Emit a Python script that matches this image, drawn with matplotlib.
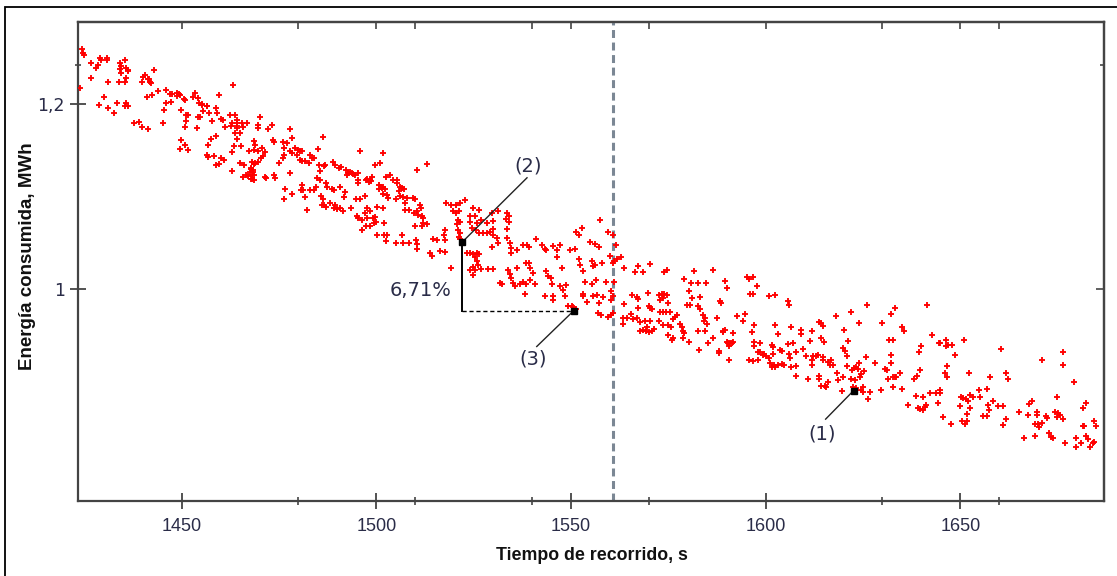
import matplotlib.pyplot as plt
from matplotlib.patches import Rectangle

# (tiempo de recorrido [s], energia [MWh]), left to right
seg_a = [
    (1424.4, 1.260), (1424.7, 1.256), (1424.9, 1.254), (1423.8, 1.218),
    (1426.8, 1.245), (1426.8, 1.229), (1428.1, 1.239), (1428.5, 1.243),
    (1429.0, 1.250), (1429.2, 1.248), (1430.7, 1.250), (1430.9, 1.248),
    (1431.1, 1.224), (1430.1, 1.208), (1428.8, 1.199), (1431.1, 1.196),
    (1432.6, 1.191), (1433.5, 1.201), (1434.1, 1.245), (1434.4, 1.242),
    (1434.1, 1.238), (1434.4, 1.234), (1435.4, 1.248), (1435.8, 1.239),
    (1436.2, 1.237), (1436.1, 1.236), (1433.8, 1.224), (1435.4, 1.224),
    (1435.8, 1.229), (1435.4, 1.198), (1435.8, 1.201), (1436.1, 1.198),
    (1437.8, 1.180), (1439.1, 1.181), (1439.8, 1.176), (1441.4, 1.173),
    (1439.7, 1.224), (1440.1, 1.230), (1440.5, 1.232), (1441.4, 1.227),
    (1441.8, 1.224), (1442.2, 1.223), (1441.6, 1.228), (1442.9, 1.237),
    (1441.0, 1.208), (1442.4, 1.210), (1443.9, 1.214), (1445.4, 1.194),
    (1445.3, 1.180), (1446.1, 1.216), (1446.1, 1.201), (1447.2, 1.203),
    (1446.9, 1.211), (1447.5, 1.211), (1448.9, 1.212), (1449.3, 1.211),
    (1449.5, 1.210), (1448.7, 1.209), (1449.9, 1.194), (1450.6, 1.206),
    (1450.8, 1.205), (1451.0, 1.188), (1451.5, 1.188), (1451.2, 1.182),
    (1450.8, 1.176), (1449.9, 1.161), (1450.8, 1.156), (1449.5, 1.152),
    (1451.5, 1.151), (1452.9, 1.208), (1453.5, 1.212), (1454.1, 1.207),
    (1454.4, 1.201), (1455.1, 1.199), (1455.5, 1.193), (1455.2, 1.200),
    (1456.4, 1.198), (1457.0, 1.191), (1454.1, 1.186), (1454.7, 1.186),
    (1454.0, 1.174), (1456.6, 1.198), (1457.8, 1.182), (1457.5, 1.163),
    (1458.9, 1.196), (1459.2, 1.191), (1459.5, 1.210), (1458.9, 1.166),
    (1456.8, 1.156), (1456.8, 1.143), (1456.6, 1.145), (1458.3, 1.144),
    (1460.2, 1.184), (1460.6, 1.183), (1461.1, 1.176), (1458.9, 1.134),
    (1459.5, 1.135), (1460.2, 1.142), (1460.9, 1.140), (1462.4, 1.188),
    (1462.8, 1.180), (1462.6, 1.177), (1463.2, 1.221), (1463.8, 1.188),
    (1464.1, 1.183), (1464.3, 1.180), (1464.1, 1.177), (1464.3, 1.174),
    (1463.8, 1.169), (1464.9, 1.169), (1465.4, 1.180), (1465.8, 1.175),
    (1466.9, 1.180), (1464.1, 1.162), (1463.5, 1.155), (1463.0, 1.148),
    (1465.2, 1.155), (1467.2, 1.150), (1464.9, 1.136), (1466.0, 1.134),
    (1463.0, 1.128), (1465.8, 1.121), (1466.6, 1.124), (1467.1, 1.122),
    (1467.5, 1.127), (1467.7, 1.119), (1467.9, 1.131),
]

seg_b = [
    (1470.0, 1.186), (1469.5, 1.178), (1469.5, 1.174), (1472.3, 1.173),
    (1473.2, 1.178), (1468.6, 1.160), (1468.9, 1.156), (1468.6, 1.151),
    (1469.5, 1.149), (1470.6, 1.153), (1471.5, 1.148), (1473.4, 1.161),
    (1473.6, 1.159), (1468.0, 1.138), (1468.5, 1.135), (1468.9, 1.137),
    (1469.5, 1.138), (1470.3, 1.142), (1470.9, 1.144), (1467.8, 1.130),
    (1468.3, 1.127), (1468.0, 1.123), (1468.6, 1.124), (1468.0, 1.119),
    (1468.5, 1.118), (1468.3, 1.129), (1471.5, 1.121), (1471.7, 1.120),
    (1473.8, 1.123), (1474.0, 1.120), (1477.9, 1.173), (1478.3, 1.164),
    (1476.0, 1.159), (1477.0, 1.158), (1476.2, 1.153), (1476.3, 1.145),
    (1476.0, 1.142), (1475.1, 1.137), (1477.9, 1.149), (1478.3, 1.147),
    (1479.2, 1.153), (1480.0, 1.151), (1480.4, 1.149), (1480.9, 1.150),
    (1479.6, 1.145), (1480.3, 1.140), (1480.9, 1.139), (1481.7, 1.139),
    (1483.0, 1.145), (1483.4, 1.142), (1482.8, 1.137), (1484.0, 1.142),
    (1477.9, 1.126), (1476.6, 1.108), (1476.2, 1.098), (1478.3, 1.103),
    (1480.9, 1.113), (1481.1, 1.107), (1480.6, 1.107), (1481.7, 1.100),
    (1483.0, 1.107), (1483.9, 1.107), (1482.2, 1.086), (1484.9, 1.152),
    (1486.4, 1.165), (1485.2, 1.134), (1485.6, 1.128), (1486.6, 1.133),
    (1486.9, 1.134), (1484.7, 1.120), (1485.6, 1.118), (1484.6, 1.111),
    (1487.1, 1.115), (1487.3, 1.110), (1488.6, 1.108), (1489.0, 1.107),
    (1490.7, 1.110), (1485.8, 1.101), (1486.3, 1.097), (1486.0, 1.091),
    (1486.6, 1.091), (1488.1, 1.093), (1487.1, 1.089), (1488.8, 1.138),
    (1489.4, 1.134), (1490.3, 1.131), (1490.9, 1.132), (1491.6, 1.100),
    (1492.0, 1.105), (1489.0, 1.088), (1490.0, 1.087), (1490.7, 1.088),
    (1491.4, 1.085), (1489.4, 1.091), (1492.3, 1.129), (1492.6, 1.126),
    (1493.3, 1.127), (1493.7, 1.126), (1494.1, 1.125), (1494.6, 1.124),
    (1495.2, 1.126), (1492.4, 1.124), (1495.2, 1.118), (1495.2, 1.115),
    (1493.5, 1.088), (1494.8, 1.097), (1495.9, 1.098), (1497.1, 1.101),
    (1495.9, 1.149), (1497.4, 1.118), (1497.7, 1.119), (1498.3, 1.118),
    (1498.6, 1.117), (1498.9, 1.121), (1498.0, 1.116), (1495.0, 1.079),
    (1495.4, 1.077), (1496.3, 1.075), (1497.6, 1.077), (1497.1, 1.082),
    (1497.7, 1.088), (1498.4, 1.084), (1499.1, 1.077), (1499.7, 1.078),
    (1500.0, 1.073), (1499.3, 1.071), (1500.1, 1.089), (1496.3, 1.064),
    (1497.4, 1.068), (1498.4, 1.068), (1499.7, 1.134), (1501.0, 1.136),
    (1501.7, 1.147), (1500.8, 1.113), (1501.2, 1.111), (1501.4, 1.109),
    (1501.8, 1.111), (1502.3, 1.108), (1500.6, 1.108), (1501.8, 1.103),
    (1502.7, 1.102), (1502.9, 1.099), (1502.5, 1.121), (1503.4, 1.124),
    (1501.8, 1.088), (1502.0, 1.071), (1500.1, 1.059), (1502.0, 1.059),
    (1502.7, 1.059), (1502.5, 1.052), (1504.4, 1.118), (1505.3, 1.118),
    (1505.4, 1.115), (1506.1, 1.111), (1506.6, 1.109), (1505.7, 1.106),
    (1507.0, 1.108), (1506.0, 1.101), (1506.8, 1.100), (1507.8, 1.099),
    (1505.1, 1.097), (1505.1, 1.050), (1506.6, 1.059), (1506.8, 1.050),
    (1508.3, 1.050), (1509.4, 1.099), (1510.0, 1.097), (1507.4, 1.093),
    (1507.4, 1.086), (1508.5, 1.086), (1509.7, 1.082), (1510.4, 1.085),
    (1511.3, 1.091), (1511.4, 1.088), (1511.7, 1.079), (1512.1, 1.077),
    (1510.8, 1.080), (1509.9, 1.068), (1510.2, 1.053), (1510.4, 1.049),
    (1510.4, 1.043), (1510.4, 1.129), (1511.7, 1.068), (1512.1, 1.071),
]

seg_c = [
    (1513.1, 1.135), (1513.1, 1.070), (1514.6, 1.054), (1514.2, 1.036),
    (1513.8, 1.039), (1516.3, 1.041), (1517.6, 1.040), (1518.0, 1.093),
    (1519.3, 1.091), (1520.4, 1.091), (1521.6, 1.093), (1522.8, 1.096),
    (1519.8, 1.084), (1520.4, 1.082), (1521.3, 1.084), (1521.0, 1.075),
    (1521.6, 1.073), (1520.6, 1.070), (1517.6, 1.064), (1517.4, 1.059),
    (1517.6, 1.053), (1515.5, 1.053), (1521.0, 1.064), (1521.5, 1.061),
    (1521.3, 1.056), (1521.6, 1.054), (1524.9, 1.088), (1526.4, 1.086),
    (1525.3, 1.079), (1524.0, 1.079), (1524.0, 1.073), (1525.8, 1.071),
    (1527.0, 1.075), (1528.3, 1.072), (1524.5, 1.066), (1525.6, 1.064),
    (1526.4, 1.061), (1527.5, 1.061), (1528.3, 1.061), (1529.2, 1.062),
    (1530.0, 1.065), (1529.9, 1.074), (1529.6, 1.082), (1531.3, 1.084),
    (1530.0, 1.058), (1529.6, 1.046), (1530.9, 1.055), (1531.3, 1.050),
    (1519.1, 1.023), (1523.4, 1.039), (1524.0, 1.039), (1524.9, 1.038),
    (1525.8, 1.039), (1526.4, 1.038), (1525.3, 1.035), (1525.8, 1.030),
    (1524.9, 1.024), (1525.3, 1.021), (1526.2, 1.026), (1524.0, 1.021),
    (1527.0, 1.022), (1528.8, 1.022), (1530.0, 1.022), (1524.9, 1.015),
    (1533.3, 1.076), (1533.6, 1.082), (1534.1, 1.073), (1534.1, 1.079),
    (1533.6, 1.065), (1533.6, 1.055), (1534.3, 1.050), (1534.7, 1.044),
    (1534.5, 1.039), (1536.2, 1.042), (1531.7, 1.006), (1532.4, 1.005),
    (1533.9, 1.021), (1534.3, 1.016), (1534.7, 1.012), (1535.2, 1.006),
    (1535.6, 1.003), (1536.0, 1.023), (1536.9, 1.005), (1537.7, 1.008),
    (1538.4, 1.005), (1538.2, 0.995), (1537.6, 1.048), (1538.8, 1.048),
    (1539.3, 1.046), (1538.4, 1.028), (1539.3, 1.028), (1539.5, 1.023),
    (1540.3, 1.017), (1539.5, 1.010), (1540.7, 1.005), (1541.0, 1.054),
    (1542.5, 1.048), (1543.3, 1.043), (1543.7, 1.042), (1543.7, 1.019),
    (1544.2, 1.014), (1544.8, 1.012), (1545.0, 1.005), (1545.4, 0.992),
    (1545.3, 0.988), (1543.3, 0.992), (1545.4, 1.047), (1546.3, 1.042),
    (1546.5, 1.035), (1547.2, 1.048), (1547.6, 1.023), (1548.0, 0.999),
    (1548.4, 0.992), (1547.2, 1.003), (1548.7, 1.004), (1549.3, 0.982),
    (1550.2, 0.982), (1550.6, 0.981), (1551.4, 0.978), (1549.7, 1.042),
    (1551.0, 1.043), (1552.1, 1.033), (1552.3, 1.026), (1551.4, 1.062),
    (1552.1, 1.059), (1552.7, 1.066), (1553.2, 1.019), (1553.6, 1.008),
    (1553.0, 0.995), (1553.2, 0.992), (1554.0, 0.986), (1555.7, 0.992),
    (1554.9, 1.051), (1555.3, 1.030), (1555.7, 1.025), (1555.5, 1.005),
]

seg_d = [
    (1557.5, 1.075), (1559.6, 1.062), (1560.9, 1.058), (1561.6, 1.048),
    (1559.9, 1.036), (1561.1, 1.030), (1561.7, 1.033), (1562.8, 1.035),
    (1560.7, 1.028), (1557.3, 1.046), (1556.2, 1.049), (1557.9, 1.028),
    (1556.2, 1.026), (1556.4, 1.010), (1559.0, 1.008), (1561.1, 1.008),
    (1560.2, 0.998), (1556.6, 0.993), (1558.2, 0.991), (1557.3, 0.985),
    (1560.2, 0.988), (1560.9, 0.992), (1557.0, 0.974), (1557.6, 0.972),
    (1559.6, 0.970), (1560.2, 0.972), (1560.7, 0.974), (1563.6, 1.023),
    (1566.5, 1.018), (1567.3, 1.025), (1568.4, 1.018), (1570.3, 1.027),
    (1563.6, 0.984), (1565.6, 0.993), (1566.9, 0.991), (1567.3, 0.989),
    (1567.3, 0.979), (1569.9, 0.996), (1563.3, 0.969), (1564.3, 0.969),
    (1563.3, 0.962), (1565.3, 0.973), (1566.0, 0.967), (1566.9, 0.969),
    (1567.7, 0.964), (1569.0, 0.965), (1570.3, 0.965), (1569.6, 0.959),
    (1568.6, 0.956), (1569.3, 0.954), (1570.1, 0.953), (1570.7, 0.955),
    (1571.2, 0.957), (1570.1, 0.982), (1570.3, 0.979), (1570.7, 0.978),
    (1567.6, 0.955), (1572.5, 0.994), (1573.3, 0.995), (1573.9, 0.995),
    (1574.6, 0.994), (1572.9, 0.988), (1573.6, 0.990), (1575.0, 0.985),
    (1572.9, 0.975), (1573.7, 0.975), (1574.4, 0.975), (1575.3, 0.975),
    (1572.5, 0.965), (1573.6, 0.961), (1575.0, 0.961), (1575.6, 0.959),
    (1574.8, 0.950), (1575.9, 0.945), (1576.3, 0.947), (1573.9, 1.018),
    (1574.6, 1.021), (1576.3, 0.967), (1576.7, 0.970), (1577.3, 0.972),
    (1578.0, 0.962), (1578.4, 0.959), (1578.7, 0.955), (1579.0, 0.952),
    (1578.7, 0.947), (1580.4, 0.943), (1578.9, 1.011), (1580.2, 0.998),
    (1579.9, 0.983), (1580.6, 0.983), (1581.0, 0.990), (1580.8, 1.007),
    (1581.6, 1.020), (1582.7, 1.007), (1583.2, 0.991), (1582.7, 0.982),
    (1583.2, 0.978), (1584.7, 1.007), (1584.0, 0.972), (1584.4, 0.969),
    (1584.9, 0.962), (1584.2, 0.965), (1582.5, 0.955), (1584.4, 0.955),
    (1583.0, 0.934), (1585.3, 0.941), (1586.4, 0.947), (1586.4, 1.021),
    (1588.3, 0.987), (1588.5, 0.985), (1587.6, 0.969), (1589.1, 0.955),
    (1589.6, 0.956), (1589.1, 0.953), (1591.7, 0.952), (1589.6, 1.009),
    (1590.0, 1.001), (1590.0, 0.943), (1590.4, 0.941), (1590.7, 0.938),
    (1591.3, 0.942), (1591.7, 0.943), (1590.9, 0.941), (1588.1, 0.931),
    (1588.1, 0.933), (1590.7, 0.923), (1592.6, 0.971), (1594.7, 0.973),
    (1595.1, 1.013), (1595.8, 1.011), (1596.7, 1.013), (1597.7, 1.003),
    (1596.0, 0.995), (1596.7, 0.995), (1594.3, 0.965), (1597.0, 0.961),
    (1596.4, 0.953), (1596.9, 0.943), (1597.0, 0.938), (1598.6, 0.941),
    (1595.6, 0.923), (1596.7, 0.922), (1598.1, 0.923), (1598.1, 0.932),
    (1598.6, 0.932), (1599.4, 0.929), (1599.6, 0.930),
]

seg_e = [
    (1600.9, 0.992), (1602.4, 0.993), (1605.8, 0.987), (1606.0, 0.983),
    (1601.5, 0.939), (1601.8, 0.937), (1602.4, 0.961), (1603.2, 0.951),
    (1600.0, 0.927), (1600.9, 0.925), (1601.9, 0.930), (1602.4, 0.916),
    (1603.2, 0.918), (1603.6, 0.934), (1604.1, 0.933), (1604.3, 0.919),
    (1604.7, 0.918), (1601.5, 0.915), (1601.1, 0.920), (1602.1, 0.918),
    (1605.8, 0.940), (1606.0, 0.930), (1606.2, 0.925), (1607.1, 0.942),
    (1607.7, 0.932), (1606.4, 0.916), (1607.7, 0.917), (1607.9, 0.906),
    (1609.5, 0.935), (1609.2, 0.956), (1609.2, 0.951), (1606.4, 0.959),
    (1610.3, 0.927), (1611.3, 0.944), (1611.8, 0.955), (1611.8, 0.923),
    (1611.8, 0.918), (1612.2, 0.927), (1612.9, 0.927), (1613.5, 0.928),
    (1613.7, 0.964), (1614.3, 0.963), (1614.6, 0.960), (1614.1, 0.947),
    (1614.9, 0.943), (1614.8, 0.926), (1614.6, 0.923), (1610.9, 0.902),
    (1613.7, 0.906), (1613.7, 0.902), (1614.3, 0.895), (1615.2, 0.895),
    (1616.1, 0.899), (1615.6, 0.894), (1616.1, 0.921), (1616.5, 0.918),
    (1616.7, 0.923), (1617.3, 0.918), (1618.0, 0.971), (1618.2, 0.909),
    (1618.6, 0.901), (1619.9, 0.905), (1620.1, 0.956), (1619.9, 0.936),
    (1620.3, 0.933), (1620.8, 0.927), (1621.2, 0.944), (1620.9, 0.917),
    (1619.7, 0.889), (1621.8, 0.903), (1622.0, 0.975), (1622.3, 0.912),
    (1622.6, 0.914), (1623.3, 0.916), (1623.8, 0.913), (1624.0, 0.963),
    (1624.2, 0.905), (1624.6, 0.908), (1625.2, 0.911), (1622.9, 0.901),
    (1622.5, 0.894), (1623.3, 0.893), (1624.0, 0.920), (1625.7, 0.926),
    (1625.9, 0.983), (1625.0, 0.894), (1624.6, 0.891), (1625.0, 0.888),
    (1626.3, 0.881), (1626.8, 0.888), (1628.0, 0.920), (1629.5, 0.891),
    (1630.0, 0.963), (1630.6, 0.913), (1631.2, 0.912), (1631.5, 0.903),
    (1632.6, 0.894), (1632.1, 0.920), (1632.3, 0.929), (1632.6, 0.945),
    (1632.7, 0.905), (1633.2, 0.905), (1634.5, 0.909), (1634.9, 0.892),
    (1633.6, 0.905), (1631.7, 0.945), (1632.1, 0.973), (1633.2, 0.979),
    (1634.9, 0.959), (1635.5, 0.954), (1636.6, 0.874), (1638.1, 0.903),
    (1638.6, 0.884), (1638.9, 0.906), (1639.4, 0.932), (1639.6, 0.912),
    (1640.0, 0.938), (1639.2, 0.871), (1639.6, 0.870), (1640.3, 0.883),
    (1640.5, 0.869), (1640.9, 0.872), (1641.3, 0.874), (1642.2, 0.887),
    (1642.8, 0.950), (1641.5, 0.983),
]

seg_f = [
    (1644.6, 0.941), (1644.9, 0.941), (1646.3, 0.945), (1646.3, 0.938),
    (1646.9, 0.939), (1647.8, 0.939), (1650.9, 0.945), (1648.6, 0.929),
    (1646.7, 0.917), (1646.1, 0.909), (1646.7, 0.905), (1652.3, 0.909),
    (1643.7, 0.887), (1644.9, 0.891), (1644.9, 0.887), (1644.3, 0.877),
    (1645.6, 0.861), (1647.5, 0.854), (1650.1, 0.883), (1650.8, 0.882),
    (1651.4, 0.881), (1652.0, 0.879), (1652.6, 0.885), (1653.2, 0.883),
    (1649.9, 0.873), (1652.6, 0.871), (1651.8, 0.865), (1650.3, 0.857),
    (1651.2, 0.854), (1651.8, 0.857), (1654.9, 0.891), (1655.0, 0.883),
    (1656.9, 0.892), (1657.6, 0.905), (1655.7, 0.862), (1656.8, 0.862),
    (1657.4, 0.869), (1657.2, 0.874), (1658.5, 0.879), (1659.8, 0.873),
    (1660.9, 0.873), (1661.7, 0.859), (1660.9, 0.853), (1660.4, 0.935),
    (1661.7, 0.909), (1662.3, 0.902), (1665.1, 0.867), (1666.3, 0.839),
    (1667.5, 0.863), (1667.7, 0.875), (1668.3, 0.879), (1669.2, 0.841),
    (1669.8, 0.867), (1669.8, 0.863), (1669.2, 0.854), (1670.0, 0.854),
    (1670.3, 0.851), (1671.1, 0.855), (1672.0, 0.862), (1672.3, 0.860),
    (1672.9, 0.844), (1673.2, 0.840), (1673.7, 0.839), (1671.1, 0.923),
    (1674.9, 0.883), (1674.3, 0.867), (1674.7, 0.861), (1675.2, 0.866),
    (1675.6, 0.863), (1676.4, 0.859), (1676.9, 0.833), (1676.4, 0.932),
    (1676.4, 0.918), (1679.2, 0.899), (1679.7, 0.839), (1679.7, 0.829),
    (1680.9, 0.833), (1681.6, 0.871), (1682.4, 0.877), (1682.4, 0.841),
    (1682.9, 0.838), (1683.3, 0.829), (1684.0, 0.833), (1684.3, 0.834),
    (1684.3, 0.857), (1684.8, 0.852), (1681.8, 0.852), (1681.4, 0.852),
]

t_limit = 1560.7          # dashed vertical reference
mark_1 = (1622.6, 0.890)
mark_2 = (1522.1, 1.051)
mark_3 = (1550.7, 0.9765)
gap_text = '6,71%'

x_major = [1450, 1500, 1550, 1600, 1650]
x_minor = [1480, 1510, 1540, 1570, 1630, 1660]
y_major = [1.0, 1.2]
y_major_lbl = ['1', '1,2']
y_minor = [1.243]

spine_c = '#444444'
lbl_c = '#2a2c48'
arial = ['Liberation Sans', 'DejaVu Sans']

W, H = 1117, 576
fig = plt.figure(figsize=(W / 100, H / 100), dpi=100)
ax = fig.add_axes([78 / W, 1 - 501 / H, 1026 / W, 479 / H])

for seg in [seg_a, seg_b, seg_c, seg_d, seg_e, seg_f]:
    t, e = zip(*seg)
    ax.plot(t, e, ls='none', marker='+', ms=3.7, mew=1.35, color='#ff0000', zorder=3)

ax.axvline(t_limit, color='#7b8794', lw=2.2, ls=(0, (2.6, 1.5)), zorder=2)

# (2)-(3) difference bracket
ax.plot([mark_2[0], mark_2[0]], [mark_3[1], mark_2[1]], color='black', lw=1.4, zorder=4)
ax.plot([mark_2[0], mark_3[0]], [mark_3[1], mark_3[1]], color='black', lw=1.0,
        ls=(0, (3, 2)), zorder=4)
ax.text(1519.2, 0.9985, gap_text, ha='right', va='center', fontsize=14, color=lbl_c)

callouts = [
    (mark_1, (1615.4, 0.859), (1614.4, 0.843), '(1)'),
    (mark_2, (1538.7, 1.1205), (1538.9, 1.1338), '(2)'),
    (mark_3, (1541.2, 0.9377), (1540.2, 0.9244), '(3)'),
]
for pt, end, txt_at, txt in callouts:
    ax.plot([pt[0], end[0]], [pt[1], end[1]], color='#222222', lw=1.0, zorder=4)
    ax.plot(pt[0], pt[1], marker='s', ms=4, color='black', zorder=5)
    ax.text(txt_at[0], txt_at[1], txt, ha='center', va='center', fontsize=14, color=lbl_c)

ax.set_xlim(1423.37, 1686.9)
ax.set_ylim(0.7703, 1.2893)

ax.set_xticks(x_major)
ax.set_xticks(x_minor, minor=True)
ax.set_yticks(y_major)
ax.set_yticklabels(y_major_lbl)
ax.set_yticks(y_minor, minor=True)

ax.tick_params(axis='x', which='major', direction='inout', length=11, width=1.3,
               color=spine_c, labelcolor=lbl_c, labelsize=13, pad=7, top=False)
ax.tick_params(axis='x', which='minor', direction='inout', length=6, width=1.2,
               color=spine_c, top=False)
ax.tick_params(axis='y', which='major', direction='inout', length=11, width=1.3,
               color=spine_c, labelcolor=lbl_c, labelsize=12.5, pad=4, right=False)
ax.tick_params(axis='y', which='minor', direction='inout', length=5, width=1.2,
               color=spine_c, right=False)
for lab in ax.get_xticklabels():
    lab.set_family(arial)

for s in ax.spines.values():
    s.set_color(spine_c)
    s.set_linewidth(1.6)

# ticks on the top and right frame point inwards only
top = ax.secondary_xaxis('top')
top.set_xticks(x_major)
top.set_xticks(x_minor, minor=True)
top.tick_params(which='both', direction='in', length=5, width=1.2, color=spine_c,
                labeltop=False)
top.spines['top'].set_color(spine_c)
top.spines['top'].set_linewidth(1.6)

right = ax.secondary_yaxis('right')
right.set_yticks([1.0])
right.set_yticks(y_minor, minor=True)
right.tick_params(which='major', direction='in', length=6, width=1.2, color=spine_c,
                  labelright=False)
right.tick_params(which='minor', direction='in', length=3, width=1.2, color=spine_c)
right.spines['right'].set_color(spine_c)
right.spines['right'].set_linewidth(1.6)

ax.text(-0.049, 0.512, 'Energía consumida, MWh', transform=ax.transAxes, rotation=90,
        ha='center', va='center', fontsize=13.5, fontweight='bold',
        family=arial, color='#111111')
ax.text(0.501, -0.113, 'Tiempo de recorrido, s', transform=ax.transAxes,
        ha='center', va='center', fontsize=12.8, fontweight='bold',
        family=arial, color='#111111')

# outer frame of the original screenshot
fig.add_artist(Rectangle((5 / W, -0.5), 2, 0.5 + 1 - 7 / H, transform=fig.transFigure,
                         fill=False, ec='black', lw=1.3))

fig.savefig('out.png', dpi=100)
